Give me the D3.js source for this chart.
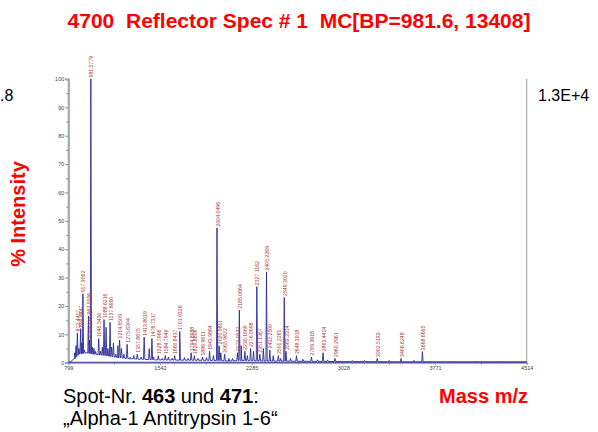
<!DOCTYPE html>
<html><head><meta charset="utf-8">
<script src="https://cdn.jsdelivr.net/npm/d3@7"></script>
<style>body{margin:0;background:#fff}svg{display:block}</style>
</head><body>
<svg id="c" width="598" height="432"></svg>
<script>
// ---- data ----
const titleText = "4700  Reflector Spec # 1  MC[BP=981.6, 13408]";
const xTicks = [799, 1542, 2285, 3028, 3771, 4514];
const yTicks = [0, 10, 20, 30, 40, 50, 60, 70, 80, 90, 100];
// labelled peaks (m/z, % intensity, label)
const peakMz  = [872.44, 899.44, 917.31, 962.56, 971.53, 981.58, 1045.54, 1088.62, 1137.67, 1214.65, 1275.63, 1357.87, 1413.80, 1476.73, 1528.80, 1584.79, 1660.84, 1701.93, 1794.90, 1820.88, 1886.96, 1943.99, 2004.05, 2020.98, 2065.96, 2170.05, 2185.07, 2230.17, 2276.10, 2327.12, 2351.14, 2405.23, 2432.25, 2501.23, 2549.30, 2563.23, 2648.39, 2769.39, 2863.44, 2960.30, 3302.51, 3496.62, 3668.67];
const peakPct = [10.5, 12.0, 24.3, 16.5, 8.0, 100, 8.5, 15.2, 14.2, 8.0, 6.5, 3.0, 9.0, 8.5, 2.5, 2.5, 2.5, 11.0, 3.5, 2.5, 2.0, 4.0, 47.5, 6.0, 3.0, 3.5, 18.5, 4.0, 5.0, 26.8, 3.0, 32.0, 4.5, 2.5, 23.0, 4.0, 2.5, 2.0, 3.5, 1.5, 1.5, 1.5, 3.9];
const peakLabels = ["872.4417", "899.4447", "917.3062", "962.5556", "971.5338", "981.5779", "1045.5430", "1088.6216", "1137.6660", "1214.6509", "1275.6304", "1357.8675", "1413.8019", "1476.7317", "1528.7966", "1584.7949", "1660.8437", "1701.9326", "1794.8988", "1820.8806", "1886.9611", "1943.9864", "2004.0496", "2020.9811", "2065.9622", "2170.0532", "2185.0664", "2230.1669", "2276.0998", "2327.1162", "2351.1367", "2405.2269", "2432.2500", "2501.2261", "2549.3020", "2563.2314", "2648.3918", "2769.3918", "2863.4414", "2960.2961", "3302.5133", "3496.6248", "3668.6665"];
// unlabelled peaks (isotopes and minor signals)
const minorMz  = [850, 862, 885, 908, 930, 945, 982.58, 995, 1007, 1020, 1060, 1075, 1089.62, 1105, 1120, 1150, 1165, 1185, 1200, 1230, 1250, 1300, 1330, 1390, 1455, 1490, 1560, 1610, 1640, 1706, 1740, 1770, 1850, 1920, 1975, 2005.05, 2035, 2100, 2130, 2186.07, 2200, 2250, 2300, 2328.12, 2380, 2406.23, 2460, 2520, 2550.30, 2600, 2700, 2820, 2900, 3100, 3200, 3400, 3600, 3669.67, 3900, 4100, 4300];
const minorPct = [3.5, 6.0, 5.0, 7.0, 4.5, 3.5, 80, 5.5, 5.0, 4.0, 4.0, 5.5, 12.0, 12.5, 5.0, 5.5, 7.0, 3.0, 6.0, 5.0, 3.0, 2.0, 2.5, 2.0, 5.0, 2.0, 1.5, 2.0, 1.5, 5.0, 1.8, 1.5, 1.5, 1.8, 2.5, 32.0, 3.5, 1.5, 1.5, 15.0, 6.0, 2.5, 4.0, 20.0, 5.0, 25.0, 2.5, 1.5, 18.0, 1.5, 1.2, 1.0, 1.0, 0.8, 0.8, 0.8, 0.8, 3.0, 0.6, 0.6, 0.6];
// baseline level of the trace
const baseMz  = [799, 820, 850, 880, 950, 1000, 1100, 1200, 1300, 1500, 1700, 2000, 2100, 2200, 2400, 2700, 3000, 3500, 4514];
const basePct = [0.0, 0.3, 1.5, 3.0, 3.5, 3.0, 2.5, 1.8, 1.4, 1.0, 0.9, 0.8, 0.6, 0.8, 0.6, 0.5, 0.4, 0.3, 0.3];

// ---- layout ----
const svg = d3.select("#c");
const x = d3.scaleLinear().domain([799, 4514]).range([68.3, 526.7]);
const y = d3.scaleLinear().domain([0, 100]).range([362.7, 79]);
const baseAt = d3.scaleLinear().domain(baseMz).range(basePct);
const FF = "Liberation Sans, Arial, sans-serif";

// title
svg.append("text").attr("x", 299).attr("y", 28).attr("text-anchor", "middle")
  .attr("font-family", FF).attr("font-weight", "bold")
  .attr("font-size", 21).attr("fill", "#ff0000").style("white-space", "pre").text(titleText);

// side texts
svg.append("text").attr("x", 0).attr("y", 101).attr("font-family", FF)
  .attr("font-size", 16).attr("fill", "#000").text(".8");
svg.append("text").attr("x", 538).attr("y", 101).attr("font-family", FF)
  .attr("font-size", 16).attr("fill", "#000").text("1.3E+4");

svg.append("text").attr("transform", "translate(25,214) rotate(-90)").attr("text-anchor", "middle")
  .attr("font-family", FF).attr("font-weight", "bold")
  .attr("font-size", 20).attr("fill", "#ff0000").text("% Intensity");

svg.append("text").attr("x", 528).attr("y", 403).attr("text-anchor", "end")
  .attr("font-family", FF).attr("font-weight", "bold")
  .attr("font-size", 20).attr("fill", "#ff0000").text("Mass m/z");

const foot = svg.append("text").attr("x", 63).attr("y", 403)
  .attr("font-family", FF).attr("font-size", 20).attr("fill", "#000");
foot.append("tspan").text("Spot-Nr. ");
foot.append("tspan").attr("font-weight", "bold").text("463");
foot.append("tspan").text(" und ");
foot.append("tspan").attr("font-weight", "bold").text("471");
foot.append("tspan").text(":");
svg.append("text").attr("x", 63).attr("y", 425)
  .attr("font-family", FF).attr("font-size", 20).attr("fill", "#000")
  .text("\u201EAlpha-1 Antitrypsin 1-6\u201C");

// axes
const gy = svg.append("g").attr("transform", "translate(68.3,0)")
  .call(d3.axisLeft(y).tickValues(yTicks).tickSize(3).tickPadding(1).tickFormat(d3.format("d")));
gy.append("g").call(d3.axisLeft(y).tickValues(d3.range(5, 100, 10)).tickSize(2).tickFormat(""));
const gx = svg.append("g").attr("transform", "translate(0,362.7)")
  .call(d3.axisBottom(x).tickValues(xTicks).tickSize(2).tickPadding(1).tickFormat(d3.format("d")));
gx.append("g").call(d3.axisBottom(x).tickValues(xTicks.slice(0, -1).map((v, i) => (v + xTicks[i + 1]) / 2)).tickSize(2).tickFormat(""));
svg.selectAll(".domain").attr("stroke", "#aaa").attr("stroke-width", 1.5);
gy.select(".domain").attr("stroke-width", 2.2);
svg.selectAll(".tick line").attr("stroke", "#888");
svg.selectAll(".tick text").attr("font-family", FF)
  .attr("font-size", 5.5).attr("fill", "#444");
// right frame
svg.append("line").attr("x1", x(4514)).attr("x2", x(4514)).attr("y1", y(100)).attr("y2", y(0))
  .attr("stroke", "#999").attr("stroke-width", 1);

// spectrum trace
const pts = baseMz.map((m, i) => [m, basePct[i]]);
const allMz = peakMz.concat(minorMz), allPct = peakPct.concat(minorPct);
const dm = x.invert(69.0) - x.invert(68.3);
allMz.forEach((m, i) => {
  const b = baseAt(m);
  pts.push([m - dm, b], [m, allPct[i]], [m + dm, b]);
});
pts.sort((a, b) => a[0] - b[0]);
svg.append("path").datum(pts)
  .attr("d", d3.line().x(d => x(d[0])).y(d => y(d[1])))
  .attr("fill", "none").attr("stroke", "#2a2a96").attr("stroke-width", 0.9);
svg.append("line").attr("x1", x(799)).attr("x2", x(4514)).attr("y1", y(0.15)).attr("y2", y(0.15))
  .attr("stroke", "#3a3aa0").attr("stroke-width", 1.2);

// peak labels
svg.append("g").selectAll("text").data(peakMz).join("text")
  .attr("transform", (m, i) => `translate(${x(m) + 2.6},${y(peakPct[i]) - 1.5}) rotate(-90)`)
  .attr("font-family", FF).attr("font-size", 5.2)
  .attr("fill", "#a83a3a").text((m, i) => peakLabels[i]);
</script>
</body></html>
